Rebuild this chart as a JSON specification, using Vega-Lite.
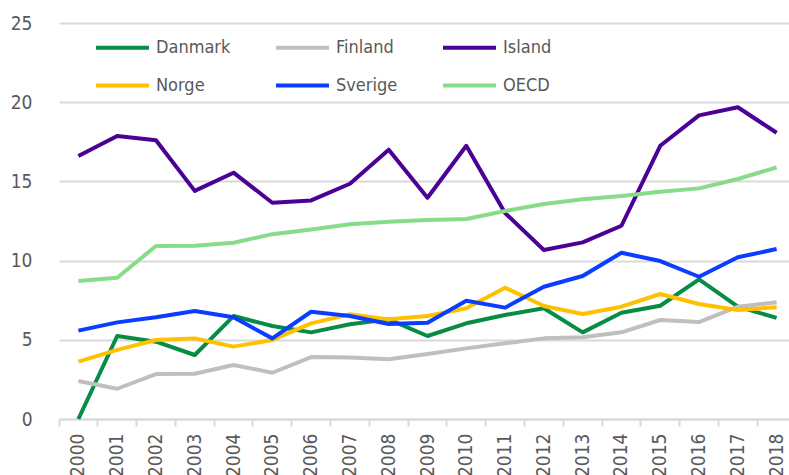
{
  "$schema": "https://vega.github.io/schema/vega-lite/v6.json",
  "width": 730,
  "height": 396,
  "autosize": "none",
  "padding": {"left": 59, "top": 23, "right": 0, "bottom": 56},
  "background": "white",
  "config": {"view": {"stroke": null}, "font": "DejaVu Sans Condensed, sans-serif"},
  "datasets": {
    "d": [
      {"year":"2000","country":"Danmark","value":0},{"year":"2001","country":"Danmark","value":5.24},{"year":"2002","country":"Danmark","value":4.88},{"year":"2003","country":"Danmark","value":4.04},{"year":"2004","country":"Danmark","value":6.5},{"year":"2005","country":"Danmark","value":5.87},{"year":"2006","country":"Danmark","value":5.47},{"year":"2007","country":"Danmark","value":5.98},{"year":"2008","country":"Danmark","value":6.29},{"year":"2009","country":"Danmark","value":5.24},{"year":"2010","country":"Danmark","value":6.04},{"year":"2011","country":"Danmark","value":6.57},{"year":"2012","country":"Danmark","value":6.99},{"year":"2013","country":"Danmark","value":5.47},{"year":"2014","country":"Danmark","value":6.71},{"year":"2015","country":"Danmark","value":7.15},{"year":"2016","country":"Danmark","value":8.82},{"year":"2017","country":"Danmark","value":7.09},{"year":"2018","country":"Danmark","value":6.38},
      {"year":"2000","country":"Finland","value":2.4},{"year":"2001","country":"Finland","value":1.91},{"year":"2002","country":"Finland","value":2.84},{"year":"2003","country":"Finland","value":2.86},{"year":"2004","country":"Finland","value":3.41},{"year":"2005","country":"Finland","value":2.92},{"year":"2006","country":"Finland","value":3.91},{"year":"2007","country":"Finland","value":3.89},{"year":"2008","country":"Finland","value":3.77},{"year":"2009","country":"Finland","value":4.1},{"year":"2010","country":"Finland","value":4.46},{"year":"2011","country":"Finland","value":4.78},{"year":"2012","country":"Finland","value":5.09},{"year":"2013","country":"Finland","value":5.16},{"year":"2014","country":"Finland","value":5.47},{"year":"2015","country":"Finland","value":6.25},{"year":"2016","country":"Finland","value":6.12},{"year":"2017","country":"Finland","value":7.09},{"year":"2018","country":"Finland","value":7.37},
      {"year":"2000","country":"Island","value":16.6},{"year":"2001","country":"Island","value":17.87},{"year":"2002","country":"Island","value":17.6},{"year":"2003","country":"Island","value":14.4},{"year":"2004","country":"Island","value":15.55},{"year":"2005","country":"Island","value":13.65},{"year":"2006","country":"Island","value":13.8},{"year":"2007","country":"Island","value":14.85},{"year":"2008","country":"Island","value":17.0},{"year":"2009","country":"Island","value":13.97},{"year":"2010","country":"Island","value":17.25},{"year":"2011","country":"Island","value":13.0},{"year":"2012","country":"Island","value":10.67},{"year":"2013","country":"Island","value":11.15},{"year":"2014","country":"Island","value":12.2},{"year":"2015","country":"Island","value":17.25},{"year":"2016","country":"Island","value":19.17},{"year":"2017","country":"Island","value":19.68},{"year":"2018","country":"Island","value":18.07},
      {"year":"2000","country":"Norge","value":3.62},{"year":"2001","country":"Norge","value":4.36},{"year":"2002","country":"Norge","value":4.99},{"year":"2003","country":"Norge","value":5.09},{"year":"2004","country":"Norge","value":4.57},{"year":"2005","country":"Norge","value":4.99},{"year":"2006","country":"Norge","value":6.04},{"year":"2007","country":"Norge","value":6.61},{"year":"2008","country":"Norge","value":6.29},{"year":"2009","country":"Norge","value":6.5},{"year":"2010","country":"Norge","value":6.99},{"year":"2011","country":"Norge","value":8.29},{"year":"2012","country":"Norge","value":7.13},{"year":"2013","country":"Norge","value":6.63},{"year":"2014","country":"Norge","value":7.09},{"year":"2015","country":"Norge","value":7.89},{"year":"2016","country":"Norge","value":7.26},{"year":"2017","country":"Norge","value":6.88},{"year":"2018","country":"Norge","value":7.05},
      {"year":"2000","country":"Sverige","value":5.58},{"year":"2001","country":"Sverige","value":6.1},{"year":"2002","country":"Sverige","value":6.42},{"year":"2003","country":"Sverige","value":6.82},{"year":"2004","country":"Sverige","value":6.42},{"year":"2005","country":"Sverige","value":5.09},{"year":"2006","country":"Sverige","value":6.77},{"year":"2007","country":"Sverige","value":6.5},{"year":"2008","country":"Sverige","value":6.0},{"year":"2009","country":"Sverige","value":6.08},{"year":"2010","country":"Sverige","value":7.47},{"year":"2011","country":"Sverige","value":7.03},{"year":"2012","country":"Sverige","value":8.35},{"year":"2013","country":"Sverige","value":9.03},{"year":"2014","country":"Sverige","value":10.5},{"year":"2015","country":"Sverige","value":9.97},{"year":"2016","country":"Sverige","value":8.98},{"year":"2017","country":"Sverige","value":10.21},{"year":"2018","country":"Sverige","value":10.73},
      {"year":"2000","country":"OECD","value":8.71},{"year":"2001","country":"OECD","value":8.92},{"year":"2002","country":"OECD","value":10.92},{"year":"2003","country":"OECD","value":10.94},{"year":"2004","country":"OECD","value":11.13},{"year":"2005","country":"OECD","value":11.67},{"year":"2006","country":"OECD","value":11.97},{"year":"2007","country":"OECD","value":12.29},{"year":"2008","country":"OECD","value":12.46},{"year":"2009","country":"OECD","value":12.56},{"year":"2010","country":"OECD","value":12.63},{"year":"2011","country":"OECD","value":13.13},{"year":"2012","country":"OECD","value":13.57},{"year":"2013","country":"OECD","value":13.87},{"year":"2014","country":"OECD","value":14.08},{"year":"2015","country":"OECD","value":14.35},{"year":"2016","country":"OECD","value":14.56},{"year":"2017","country":"OECD","value":15.15},{"year":"2018","country":"OECD","value":15.89}
    ]
  },
  "data": {"name": "d"},
  "layer": [
    {
      "mark": {"type": "line", "strokeWidth": 4, "strokeJoin": "round", "strokeCap": "butt"},
      "encoding": {
        "x": {"field": "year", "type": "ordinal", "bandPosition": 0.5,
          "scale": {"type": "band", "range": [0, 737], "paddingInner": 0, "paddingOuter": 0},
          "axis": {"orient": "bottom", "labelAngle": -90, "labelFontSize": 19, "labelColor": "#595959", "labelPadding": 14, "ticks": false, "domainColor": "#D9D9D9", "domainWidth": 2, "grid": false, "title": null}},
        "y": {"field": "value", "type": "quantitative",
          "scale": {"domain": [0, 25], "nice": false},
          "axis": {"values": [0, 5, 10, 15, 20, 25], "grid": true, "gridColor": "#D9D9D9", "gridWidth": 2, "domain": false, "ticks": false, "labelPadding": 27, "labelFontSize": 19, "labelColor": "#595959", "title": null}},
        "color": {"field": "country", "type": "nominal",
          "scale": {"domain": ["Danmark", "Finland", "Island", "Norge", "Sverige", "OECD"], "range": ["#078C45", "#BFBFBF", "#4B0096", "#FFC000", "#0A3DFF", "#88DB88"]},
          "legend": {"title": null, "orient": "none", "direction": "horizontal", "legendX": 35, "legendY": -4, "columns": 3, "symbolType": "stroke", "symbolSize": 2809, "symbolStrokeWidth": 4, "labelFontSize": 18, "labelColor": "#595959", "columnPadding": 37, "rowPadding": -9, "labelOffset": 5, "padding": 0}}
      }
    },
    {
      "mark": {"type": "line", "opacity": 0},
      "encoding": {
        "x": {"field": "year", "type": "ordinal", "bandPosition": 0.5,
          "axis": {"orient": "bottom", "labels": false, "ticks": true, "bandPosition": 0, "tickColor": "#D9D9D9", "tickWidth": 2, "tickSize": 7, "domain": false, "grid": false, "title": null}},
        "y": {"field": "value", "type": "quantitative"}
      }
    }
  ],
  "resolve": {"axis": {"x": "independent"}}
}
